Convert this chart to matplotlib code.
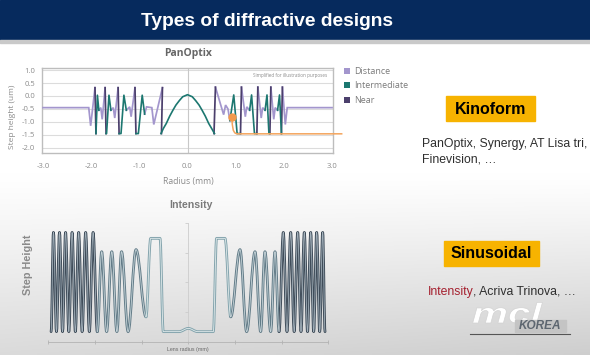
import numpy as np
import matplotlib
matplotlib.use("Agg")
import matplotlib.pyplot as plt
from matplotlib.patches import Rectangle, PathPatch, Patch
from matplotlib.path import Path
from matplotlib.textpath import TextPath
from matplotlib.font_manager import FontProperties
from matplotlib.transforms import Affine2D

plt.rcParams['axes.unicode_minus'] = False

# ---------------- data ----------------
slide_title = "Types of diffractive designs"

pan_title = "PanOptix"
pan_xlabel = "Radius (mm)"
pan_ylabel = "Step height (um)"
pan_note = "Simplified for illustration purposes"
pan_xticks = [-3.0, -2.0, -1.0, 0.0, 1.0, 2.0, 3.0]
pan_yticks = [1.0, 0.5, 0.0, -0.5, -1.0, -1.5, -2.0]
series_names = ["Distance", "Intermediate", "Near"]
series_colors = ["#a396cd", "#1c7770", "#4b3f6c"]

nan = np.nan
distance_x = [-3.0, -2.05, -2.01, -1.92, nan,
              -1.71, -1.77, -1.80, -1.84, nan,
              -1.44, -1.51, -1.54, -1.59, nan,
              -1.09, -1.17, -1.20, -1.27, nan,
              -0.52, -0.70, -0.74, -0.85, -0.89, nan,
              0.58, 0.75, 0.79, 0.84, 0.88, nan,
              1.12, 1.20, 1.23, 1.29, nan,
              1.46, 1.53, 1.56, 1.61, nan,
              1.73, 1.79, 1.82, 1.87, nan,
              1.97, 2.03, 2.07, 3.0]
distance_y = [-0.45, -0.45, -1.15, 0.32, nan,
              0.32, -0.90, -0.45, -0.55, nan,
              0.32, -0.85, -0.45, -0.55, nan,
              0.32, -0.80, -0.42, -0.55, nan,
              0.32, -1.10, -0.45, -0.42, -0.70, nan,
              0.34, -0.72, -0.35, -0.50, -0.95, nan,
              0.34, -0.80, -0.42, -0.55, nan,
              0.34, -0.85, -0.45, -0.55, nan,
              0.34, -0.90, -0.45, -0.55, nan,
              0.34, -1.10, -0.45, -0.45]

intermediate_x = [-1.84, -1.87, -1.90, nan,
                  -1.59, -1.63, -1.68, -1.69, nan,
                  -1.27, -1.32, -1.38, -1.42, nan,
                  -0.89, -0.94, -1.02, -1.07, nan,
                  -0.55, -0.50, -0.44, -0.37, -0.30, -0.24, -0.17, -0.10, 0.0,
                  0.10, 0.17, 0.24, 0.30, 0.37, 0.44, 0.50, 0.56, nan,
                  0.88, 0.96, 1.03, 1.10, nan,
                  1.29, 1.33, 1.39, 1.44, nan,
                  1.61, 1.65, 1.69, 1.71, nan,
                  1.87, 1.91, 1.95]
intermediate_y = [-0.55, 0.03, -1.45, nan,
                  -0.55, 0.03, -1.45, -1.45, nan,
                  -0.55, 0.03, -1.45, -1.45, nan,
                  -0.70, 0.03, -1.45, -1.45, nan,
                  -1.45, -1.25, -1.06, -0.78, -0.54, -0.35, -0.18, -0.03, 0.05,
                  -0.03, -0.18, -0.35, -0.54, -0.78, -1.06, -1.25, -1.45, nan,
                  -0.95, 0.04, -1.45, -1.45, nan,
                  -0.55, 0.04, -1.45, -1.45, nan,
                  -0.55, 0.04, -1.45, -1.45, nan,
                  -0.55, 0.04, -1.45]

near_x = [-1.90, -1.92, nan, -1.69, -1.71, nan, -1.42, -1.44, nan,
          -1.07, -1.09, nan, -0.54, -0.52, nan, 0.55, 0.58, nan,
          1.10, 1.12, nan, 1.44, 1.46, nan, 1.71, 1.73, nan, 1.95, 1.97]
near_y = [-1.45, 0.32, nan, -1.45, 0.32, nan, -1.45, 0.32, nan,
          -1.45, 0.32, nan, -1.45, 0.32, nan, -1.45, 0.34, nan,
          -1.45, 0.34, nan, -1.45, 0.34, nan, -1.45, 0.34, nan, -1.45, 0.34]

orange_x = [0.92, 0.93, 0.95, 0.98, 1.02, 3.2]
orange_y = [-0.82, -1.10, -1.32, -1.42, -1.46, -1.46]
orange_dot = (0.92, -0.82)

int_title = "Intensity"
int_ylabel = "Step Height"
int_xlabel = "Lens radius (mm)"
int_xticks = [-3, -2, -1, 0, 1, 2, 3]
int_yticks = [1, 2, 3, 4]
# extrema (peaks / troughs) of the sinusoidal profile
intensity_x = [-2.94, -2.89, -2.825, -2.76, -2.695, -2.63, -2.56, -2.49, -2.42,
               -2.35, -2.275, -2.20, -2.12, -2.04, -1.95, -1.856, -1.75, -1.64,
               -1.53, -1.43, -1.29, -1.12, -0.906, -0.806, -0.606, -0.536,
               -0.20, 0.0, 0.20, 0.536, 0.606, 0.786, 0.909, 1.108, 1.25, 1.43,
               1.55, 1.643, 1.765, 1.858, 1.945, 2.036, 2.115, 2.194, 2.269,
               2.344, 2.415, 2.486, 2.555, 2.623, 2.687, 2.751, 2.816, 2.88, 2.93]
intensity_y = [0.34, 3.69, 0.34, 3.69, 0.34, 3.69, 0.34, 3.69, 0.34,
               3.69, 0.34, 3.69, 0.34, 3.69, 0.34, 3.04, 0.34, 3.04,
               0.34, 3.04, 0.34, 3.11, 0.84, 3.49, 3.49, 0.34,
               0.34, 0.45, 0.34, 0.34, 3.49, 3.49, 0.84, 3.11, 0.34, 3.04,
               0.34, 3.04, 0.34, 3.04, 0.34, 3.69, 0.34, 3.69, 0.34,
               3.69, 0.34, 3.69, 0.34, 3.69, 0.34, 3.69, 0.34, 3.69, 0.34]

kino_label = "Kinoform"
kino_lines = ["PanOptix, Synergy, AT Lisa tri,", "Finevision, \u2026"]
sinus_label = "Sinusoidal"
sinus_red = "Intensity"
sinus_rest = ", Acriva Trinova, \u2026"

# ---------------- figure ----------------
W, H = 590, 355
fig = plt.figure(figsize=(5.9, 3.55), dpi=100)
bg = fig.add_axes([0, 0, 1, 1])
bg.set_xlim(0, W)
bg.set_ylim(H, 0)
bg.axis('off')

# background gradient (white top, grey towards bottom)
gy = np.linspace(0, H, 120)[:, None]
gx = np.linspace(0, 1, 60)[None, :]
t = np.clip((gy - 175) / (H - 175), 0, 1) ** 1.1
shade = 1.0 - 0.19 * t * (0.75 + 0.25 * gx)
img = np.dstack([shade, shade, shade])
bg.imshow(img, extent=(0, W, H, 0), aspect='auto', interpolation='bilinear', zorder=0)

bg.add_patch(Rectangle((0, 0), W, 40, color="#062a5d", zorder=1))
bg.add_patch(Rectangle((0, 40), W, 3, color="#c9c9c9", zorder=1))
bg.text(267, 21, slide_title, color="white", fontsize=13.8, fontweight="bold",
        ha="center", va="center", family="Liberation Sans", zorder=2)

# ---------- top chart (PanOptix) ----------
ax1 = fig.add_axes([42 / W, 1 - 153 / H, (333 - 42) / W, (153 - 68) / H])
ax1.set_facecolor("none")
ax1.set_xlim(-3.02, 3.02)
ax1.set_ylim(-2.2, 1.08)
ax1.set_xticks(pan_xticks)
ax1.set_xticklabels([f"{v:.1f}" for v in pan_xticks])
ax1.set_yticks(pan_yticks)
ax1.set_yticklabels([f"{v:.1f}" for v in pan_yticks])
ax1.tick_params(length=0, labelsize=5.5, labelcolor="#8c8c8c")
ax1.tick_params(axis="x", pad=7)
ax1.tick_params(axis="y", pad=5)
for lab in ax1.get_xticklabels() + ax1.get_yticklabels():
    lab.set_family("Open Sans")
ax1.yaxis.grid(True, color="#dcdcdc", lw=0.8)
ax1.set_axisbelow(True)
ax1.axvline(0, color="#c8c8c8", lw=0.8, zorder=1)
for s in ax1.spines.values():
    s.set_color("#bdbdbd")
    s.set_linewidth(1.0)

ax1.plot(distance_x, distance_y, color=series_colors[0], lw=1.25, zorder=3,
         solid_joinstyle="miter")
ax1.plot(near_x, near_y, color=series_colors[2], lw=1.25, zorder=4)
ax1.plot(intermediate_x, intermediate_y, color=series_colors[1], lw=1.2, zorder=4)
ax1.plot(orange_x, orange_y, color="#f4a45c", lw=1.1, zorder=5, clip_on=False)
ax1.plot([orange_dot[0]], [orange_dot[1]], "o", color="#f39a4c", ms=5, zorder=6)

ax1.text(2.9, 0.79, pan_note, fontsize=3.3, color="#8a8a8a", ha="right",
         va="center", family="Open Sans")
ax1.text(0.502, 1.176, pan_title, transform=ax1.transAxes, ha="center",
         va="center", fontsize=7.5, fontweight="bold", color="#666666",
         family="Open Sans")
ax1.set_xlabel(pan_xlabel, fontsize=6.2, color="#8a8a8a", family="Open Sans")
ax1.xaxis.label.set_va("center")
ax1.xaxis.set_label_coords(0.502, -0.341)
ax1.set_ylabel(pan_ylabel, fontsize=6.0, color="#8a8a8a", family="Open Sans")
ax1.yaxis.label.set_va("center")
ax1.yaxis.set_label_coords(-0.103, 0.43)

handles = [Patch(facecolor=c, edgecolor="none") for c in series_colors]
leg = fig.legend(handles, series_names, loc="upper left",
                 bbox_to_anchor=(344 / W, 1 - 67 / H), frameon=False,
                 handlelength=0.65, handleheight=0.65, handletextpad=0.45,
                 labelspacing=0.6, borderpad=0, borderaxespad=0,
                 prop=FontProperties(family="Open Sans", size=6.5))
for txt in leg.get_texts():
    txt.set_color("#7b7b7b")

# ---------- bottom chart (Intensity) ----------
ax2 = fig.add_axes([48.3 / W, 1 - 341.7 / H, 280 / W, 121.4 / H])
ax2.set_facecolor("none")
ax2.set_xlim(-3, 3)
ax2.set_ylim(0, 4.1)
ax2.spines["top"].set_visible(False)
ax2.spines["right"].set_visible(False)
ax2.spines["bottom"].set_color("#b3b3b3")
ax2.spines["bottom"].set_linewidth(0.6)
ax2.spines["left"].set_position(("data", 0))
ax2.spines["left"].set_bounds(0, 4.0)
ax2.spines["left"].set_color("#cccccc")
ax2.spines["left"].set_linewidth(0.6)
ax2.set_xticks(int_xticks)
ax2.set_yticks(int_yticks)
ax2.tick_params(axis="x", length=2.5, direction="inout", color="#b3b3b3",
                labelbottom=False, width=0.6)
ax2.tick_params(axis="y", length=2, direction="out", color="#cccccc",
                labelleft=False, width=0.6)

styles = {
    "outer": ("#3f4c59", "#a3b1bb"),
    "middle": ("#637c88", "#c6d4d9"),
    "center": ("#84a4ad", "#e1ebec"),
}


def group_of(xm):
    a = abs(xm)
    if a >= 1.95:
        return "outer"
    if a >= 1.0:
        return "middle"
    return "center"


def smooth_path(xs, ys, k=0.364):
    verts = [(xs[0], ys[0])]
    codes = [Path.MOVETO]
    for i in range(len(xs) - 1):
        dx = xs[i + 1] - xs[i]
        verts += [(xs[i] + k * dx, ys[i]), (xs[i + 1] - k * dx, ys[i + 1]),
                  (xs[i + 1], ys[i + 1])]
        codes += [Path.CURVE4] * 3
    return Path(verts, codes)


runs = []
start = 0
cur = group_of((intensity_x[0] + intensity_x[1]) / 2)
for i in range(1, len(intensity_x) - 1):
    g = group_of((intensity_x[i] + intensity_x[i + 1]) / 2)
    if g != cur:
        runs.append((start, i, cur))
        start, cur = i, g
runs.append((start, len(intensity_x) - 1, cur))

for layer in (0, 1):
    for s, e, g in runs:
        p = smooth_path(intensity_x[s:e + 1], intensity_y[s:e + 1])
        col = styles[g][layer]
        lw = 2.0 if layer == 0 else 0.6
        ax2.add_patch(PathPatch(p, facecolor="none", edgecolor=col, lw=lw,
                                capstyle="round", joinstyle="round",
                                zorder=3 + layer, clip_on=False))

ax2.text(0.5096, 1.126, int_title, transform=ax2.transAxes, ha="center",
         va="center", fontsize=7.6, fontweight="bold", color="#7a7a7a",
         family="Liberation Sans")
ax2.text(-0.0736, 0.632, int_ylabel, transform=ax2.transAxes, ha="center",
         va="center", rotation=90, fontsize=7.8, fontweight="bold",
         color="#8a8a8a", family="Liberation Sans")
ax2.text(0.5, -0.068, int_xlabel, transform=ax2.transAxes, ha="center",
         va="center", fontsize=3.8, color="#666666", family="Liberation Sans")

# ---------- right-hand text blocks ----------
bg.add_patch(Rectangle((446, 96), 89, 25, color="#f7b300", zorder=2))
bg.text(490.5, 109, kino_label, fontsize=11.5, fontweight="bold", color="black",
        ha="center", va="center", family="Liberation Sans", zorder=3)
bg.text(421.5, 143.5, kino_lines[0], fontsize=8.8, color="#2e2e2e", ha="left",
        va="center", family="Liberation Sans", zorder=3)
bg.text(421.5, 159.5, kino_lines[1], fontsize=8.8, color="#2e2e2e", ha="left",
        va="center", family="Liberation Sans", zorder=3)

bg.add_patch(Rectangle((443.5, 240.7), 95, 25, color="#f7b300", zorder=2))
bg.text(491, 253.5, sinus_label, fontsize=11.5, fontweight="bold", color="black",
        ha="center", va="center", family="Liberation Sans", zorder=3)
t_red = bg.text(427.5, 292, sinus_red, fontsize=8.8, color="#a5202f", ha="left",
                va="center", family="Liberation Sans", zorder=3)
fig.canvas.draw()
bb = t_red.get_window_extent()
x_end = bg.transData.inverted().transform((bb.x1, bb.y0))[0]
bg.text(x_end, 292, sinus_rest, fontsize=8.8, color="#2e2e2e", ha="left",
        va="center", family="Liberation Sans", zorder=3)

# logo
fp = FontProperties(family="Liberation Sans", weight="bold", style="italic")
tp = TextPath((0, 0), "mcl", size=1, prop=fp)
tr = Affine2D().scale(40.5, -28.5).translate(472, 323)
bg.add_patch(PathPatch(tr.transform_path(tp), facecolor="white",
                       edgecolor="#d2d2d2", lw=0.5, zorder=3))
bg.add_patch(Rectangle((515, 320), 51, 12, color="#c4c4c4", zorder=4))
bg.text(540.5, 326.3, "KOREA", fontsize=8.5, fontweight="bold", style="italic",
        color="#5d6670", ha="center", va="center", family="Liberation Sans",
        zorder=5)
bg.plot([470, 570], [334, 334], color="#555555", lw=0.8, zorder=5)

fig.savefig("out.png", dpi=100)
